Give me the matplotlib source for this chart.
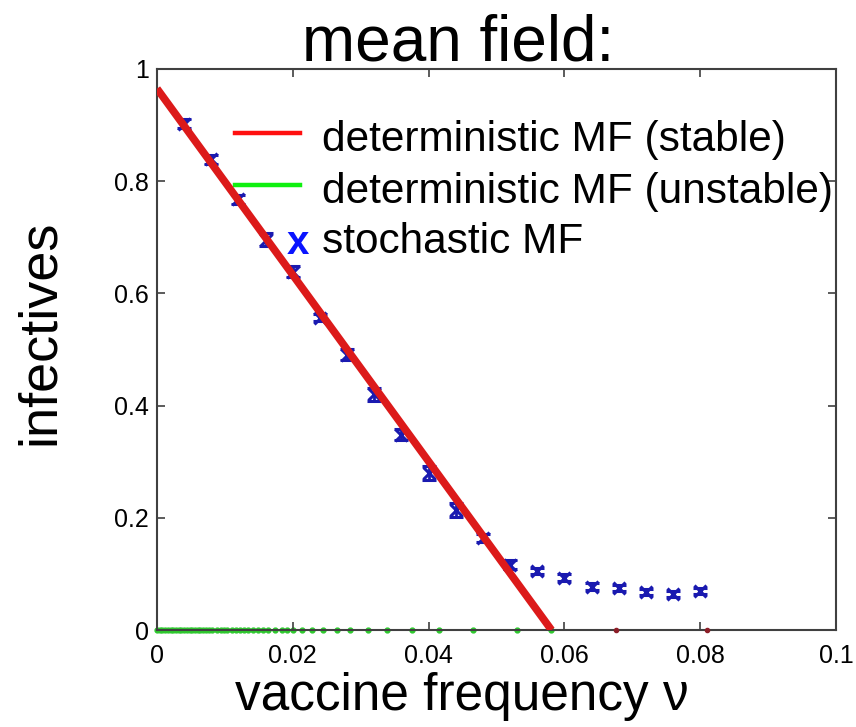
import matplotlib
matplotlib.use("Agg")
import matplotlib.pyplot as plt
from matplotlib.lines import Line2D

plt.rcParams['font.family'] = ['Liberation Sans', 'DejaVu Sans']

# deterministic MF, stable branch (straight line down to threshold)
stable_x = [0.0, 0.0581]
stable_y = [0.965, 0.0]

# stable branch at zero above threshold
stable_zero_x = [0.0676, 0.0810]
stable_zero_y = [0.0, 0.0]

# deterministic MF, unstable branch (all at zero)
unstable_x = [0.0, 0.0004, 0.0008, 0.0012, 0.0016, 0.0020, 0.0024, 0.0028,
              0.0032, 0.0036, 0.0040, 0.0044, 0.0048, 0.0052, 0.0056, 0.0060,
              0.0064, 0.0068, 0.0072, 0.0076, 0.0081, 0.0088, 0.0094, 0.0099,
              0.0103, 0.0110, 0.0116, 0.0122, 0.0128, 0.0134, 0.0141, 0.0149,
              0.0156, 0.0163, 0.0174, 0.0184, 0.0191, 0.0200, 0.0214, 0.0228,
              0.0244, 0.0265, 0.0284, 0.0311, 0.0339, 0.0376, 0.0415, 0.0465,
              0.0530, 0.0580]
unstable_y = [0.0] * len(unstable_x)

# stochastic MF
stoch_x = [0.004, 0.008, 0.012, 0.016, 0.020, 0.024, 0.028, 0.032, 0.036, 0.040,
           0.044, 0.048, 0.052, 0.056, 0.060, 0.064, 0.068, 0.072, 0.076, 0.080]
stoch_y = [0.902, 0.839, 0.768, 0.696, 0.639, 0.557, 0.491, 0.420, 0.348, 0.280,
           0.214, 0.164, 0.116, 0.105, 0.093, 0.077, 0.075, 0.068, 0.064, 0.070]
stoch_err = [0.008, 0.008, 0.008, 0.012, 0.010, 0.006, 0.010, 0.012, 0.010, 0.012,
             0.012, 0.008, 0.008, 0.006, 0.006, 0.006, 0.005, 0.005, 0.005, 0.005]

x_ticks = [0, 0.02, 0.04, 0.06, 0.08, 0.1]
x_tick_labels = ['0', '0.02', '0.04', '0.06', '0.08', '0.1']
y_ticks = [0, 0.2, 0.4, 0.6, 0.8, 1]
y_tick_labels = ['0', '0.2', '0.4', '0.6', '0.8', '1']

fig = plt.figure(figsize=(8.56, 7.27), dpi=100)
ax = fig.add_axes([0.1834, 0.1334, 0.7932, 0.7717])

ax.errorbar(stoch_x, stoch_y, yerr=stoch_err, fmt='x', color='#1a1ab0',
            ms=8, mew=2.2, elinewidth=2, capsize=5, capthick=2.2, zorder=3)
ax.plot(stable_x, stable_y, color='#dc1a1a', lw=5.5, solid_capstyle='butt', zorder=4)
ax.plot(unstable_x, unstable_y, '.', color='#2ec82e', ms=7, clip_on=False, zorder=1)
ax.plot(stable_zero_x, stable_zero_y, '.', color='#8c1e28', ms=6, clip_on=False, zorder=5)

ax.set_xlim(0, 0.1)
ax.set_ylim(0, 1)
ax.set_xticks(x_ticks)
ax.set_xticklabels(x_tick_labels)
ax.set_yticks(y_ticks)
ax.set_yticklabels(y_tick_labels)
ax.tick_params(direction='in', length=6, width=1.2, top=True, right=True,
               labelsize=18, colors='#404040', labelcolor='black')
ax.tick_params(axis='x', pad=10)
ax.tick_params(axis='y', pad=6)
for sp in ax.spines.values():
    sp.set_color('#404040')
    sp.set_linewidth(1.5)
    sp.set_zorder(2)

ax.set_title('mean field:', fontsize=46, pad=6, x=0.443)
ax.set_xlabel('vaccine frequency ν', fontsize=37, labelpad=0)
ax.xaxis.set_label_coords(0.449, -0.074)
ax.set_ylabel('infectives', fontsize=39)
ax.yaxis.set_label_coords(-0.136, 0.531)

# hand-drawn legend, no frame, text spills over the right edge like the original
leg_lines = [('#ff1010', 0.886, 'deterministic MF (stable)', 0.854),
             ('#10f010', 0.793, 'deterministic MF (unstable)', 0.761)]
for col, ly, txt, ty in leg_lines:
    ax.add_line(Line2D([0.115, 0.210], [ly, ly], color=col, lw=3.2,
                       transform=ax.transAxes, clip_on=False))
    ax.text(0.243, ty, txt, transform=ax.transAxes, fontsize=30.5,
            va='baseline', ha='left', clip_on=False)
ax.text(0.208, 0.690, 'x', transform=ax.transAxes, fontsize=29, color='#0a14ff',
        fontweight='bold', va='center', ha='center')
ax.text(0.243, 0.672, 'stochastic MF', transform=ax.transAxes, fontsize=30.5,
        va='baseline', ha='left')

fig.savefig('out.png', dpi=100)
